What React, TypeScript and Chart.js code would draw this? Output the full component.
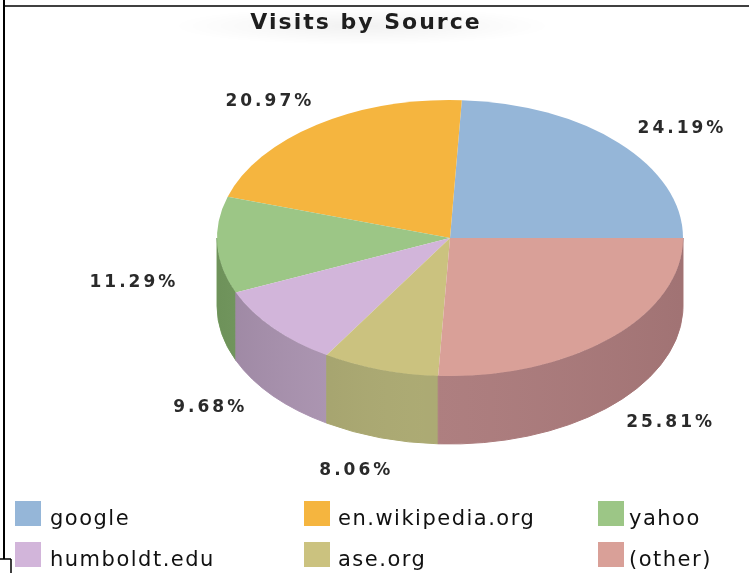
import React, { useEffect, useRef } from 'react';
import { Chart, registerables } from 'chart.js';

Chart.register(...registerables);

// ---- data ----
const categories = ['google', 'en.wikipedia.org', 'yahoo', 'humboldt.edu', 'ase.org', '(other)'];
const visits = [15, 13, 7, 6, 5, 16];
const topColors = ['#95b6d8', '#f5b53f', '#9cc686', '#d2b5da', '#cbc27f', '#d9a098'];
const sideColors = ['#7792ad', '#c49132', '#7aa264', '#ae96b4', '#a9a76e', '#ab7a7b'];
const titleText = 'Visits by Source';

// ---- layout / style ----
const W = 749;
const H = 573;
const TILT = 138 / 233;
const DEPTH = 68;
const LABEL_EXTRA_X = 85;
const LABEL_EXTRA_Y = 70;
const LEGEND_COLS = [15, 304, 598];
const LEGEND_TEXT_GAP = [35, 34, 31];
const LEGEND_ROWS = [526, 567];
const BOX_W = 26;
const BOX_H = 25;

const TWO_PI = Math.PI * 2;

const pie3d = {
  id: 'pie3d',
  beforeDatasetsDraw(chart: any) {
    const meta = chart.getDatasetMeta(0);
    const arcs = meta.data;
    if (!arcs.length) return;
    const p0 = arcs[0].getProps(['x', 'y', 'outerRadius'], true);
    const cx = p0.x, cy = p0.y, rx = p0.outerRadius, ry = rx * TILT;
    const ctx = chart.ctx;
    const drawWall = (lo: number, hi: number, color: string) => {
      ctx.beginPath();
      ctx.ellipse(cx, cy, rx, ry, 0, lo, hi, false);
      ctx.lineTo(cx + rx * Math.cos(hi), cy + DEPTH + ry * Math.sin(hi));
      ctx.ellipse(cx, cy + DEPTH, rx, ry, 0, hi, lo, true);
      ctx.closePath();
      ctx.fillStyle = color;
      ctx.fill();
      ctx.strokeStyle = color;
      ctx.lineWidth = 1;
      ctx.stroke();
    };
    ctx.save();
    arcs.forEach((arc: any, i: number) => {
      const { startAngle, endAngle } = arc.getProps(['startAngle', 'endAngle'], true);
      let t1 = -endAngle;
      let t2 = -startAngle;
      while (t1 < 0) { t1 += TWO_PI; t2 += TWO_PI; }
      while (t1 >= TWO_PI) { t1 -= TWO_PI; t2 -= TWO_PI; }
      [[0, Math.PI], [TWO_PI, TWO_PI + Math.PI]].forEach(([a, b]) => {
        const lo = Math.max(t1, a);
        const hi = Math.min(t2, b);
        if (hi > lo) drawWall(lo, hi, sideColors[i]);
      });
    });
    // subtle cylinder shading
    const g = ctx.createLinearGradient(cx - rx, 0, cx + rx, 0);
    g.addColorStop(0, 'rgba(0,0,0,0.10)');
    g.addColorStop(0.45, 'rgba(255,255,255,0.04)');
    g.addColorStop(1, 'rgba(0,0,0,0.06)');
    ctx.beginPath();
    ctx.ellipse(cx, cy, rx, ry, 0, 0, Math.PI, false);
    ctx.lineTo(cx - rx, cy + DEPTH);
    ctx.ellipse(cx, cy + DEPTH, rx, ry, 0, Math.PI, 0, true);
    ctx.closePath();
    ctx.fillStyle = g;
    ctx.fill();
    ctx.restore();

    // top surface: squash and flip so the pie runs counter-clockwise
    ctx.save();
    ctx.translate(0, cy);
    ctx.scale(1, -TILT);
    ctx.translate(0, -cy);
  },
  afterDatasetsDraw(chart: any) {
    const ctx = chart.ctx;
    ctx.restore();
    const meta = chart.getDatasetMeta(0);
    const arcs = meta.data;
    if (!arcs.length) return;
    const data = chart.data.datasets[0].data as number[];
    const total = data.reduce((a, b) => a + b, 0);
    const p0 = arcs[0].getProps(['x', 'y', 'outerRadius'], true);
    const cx = p0.x, cy = p0.y, rx = p0.outerRadius, ry = rx * TILT;
    ctx.save();
    ctx.font = 'bold 17px "DejaVu Sans"';
    (ctx as any).letterSpacing = '3px';
    ctx.fillStyle = '#2a2a2a';
    ctx.textAlign = 'center';
    ctx.textBaseline = 'middle';
    arcs.forEach((arc: any, i: number) => {
      const { startAngle, endAngle } = arc.getProps(['startAngle', 'endAngle'], true);
      const t = -(startAngle + endAngle) / 2;
      const x = cx + (rx + LABEL_EXTRA_X) * Math.cos(t);
      const y = cy + DEPTH / 2 + (ry + LABEL_EXTRA_Y) * Math.sin(t);
      const txt = ((data[i] / total) * 100).toFixed(2) + '%';
      ctx.fillText(txt, x + 1.5, y);
    });
    ctx.restore();
  },
  afterDraw(chart: any) {
    const ctx = chart.ctx;
    ctx.save();
    // faint shadow behind title
    const rg = ctx.createRadialGradient(362, 26, 10, 362, 26, 190);
    rg.addColorStop(0, 'rgba(0,0,0,0.05)');
    rg.addColorStop(1, 'rgba(0,0,0,0)');
    ctx.save();
    ctx.translate(0, 26);
    ctx.scale(1, 0.1);
    ctx.translate(0, -26);
    ctx.fillStyle = rg;
    ctx.fillRect(150, -200, 430, 460);
    ctx.restore();
    // title
    ctx.font = 'bold 22px "DejaVu Sans"';
    (ctx as any).letterSpacing = '2px';
    ctx.fillStyle = '#1e1e1e';
    ctx.textAlign = 'center';
    ctx.textBaseline = 'alphabetic';
    ctx.fillText(titleText, 366, 29);

    // legend
    const labels = chart.data.labels as string[];
    const colors = chart.data.datasets[0].backgroundColor as string[];
    ctx.font = '21px "DejaVu Sans"';
    (ctx as any).letterSpacing = '1.5px';
    ctx.textAlign = 'left';
    ctx.textBaseline = 'alphabetic';
    labels.forEach((lab, i) => {
      const col = i % 3;
      const row = Math.floor(i / 3);
      const bx = LEGEND_COLS[col];
      const by = LEGEND_ROWS[row];
      ctx.fillStyle = colors[i];
      ctx.fillRect(bx, by - BOX_H, BOX_W, BOX_H);
      ctx.fillStyle = '#111';
      ctx.fillText(lab, bx + LEGEND_TEXT_GAP[col], by - 1);
    });

    // frame lines
    ctx.strokeStyle = '#000';
    ctx.lineWidth = 2;
    ctx.beginPath();
    ctx.moveTo(4, 0);
    ctx.lineTo(4, 559);
    ctx.stroke();
    ctx.lineWidth = 1.5;
    ctx.beginPath();
    ctx.moveTo(4, 6);
    ctx.lineTo(W, 6);
    ctx.stroke();
    ctx.lineWidth = 1.5;
    ctx.beginPath();
    ctx.moveTo(0, 559);
    ctx.lineTo(11, 559);
    ctx.moveTo(11, 559);
    ctx.lineTo(11, H);
    ctx.stroke();
    ctx.restore();
  },
};

export default function App() {
  const ref = useRef<HTMLCanvasElement | null>(null);
  useEffect(() => {
    if (!ref.current) return;
    const chart = new Chart(ref.current, {
      type: 'pie',
      data: {
        labels: categories,
        datasets: [
          {
            data: visits,
            backgroundColor: topColors,
            borderColor: topColors,
            borderWidth: 0,
            clip: false,
          } as any,
        ],
      },
      options: {
        responsive: false,
        maintainAspectRatio: false,
        animation: false,
        devicePixelRatio: 1,
        rotation: 90,
        layout: { padding: { left: 217, right: 66, top: 5, bottom: 102 } },
        plugins: {
          legend: { display: false },
          title: { display: false },
          tooltip: { enabled: false },
        },
      } as any,
      plugins: [pie3d],
    });
    return () => chart.destroy();
  }, []);
  return (
    <div style={{ position: 'absolute', left: 0, top: 0, width: W, height: H, background: '#fff' }}>
      <canvas ref={ref} width={W} height={H} style={{ display: 'block', width: W, height: H }} />
    </div>
  );
}
